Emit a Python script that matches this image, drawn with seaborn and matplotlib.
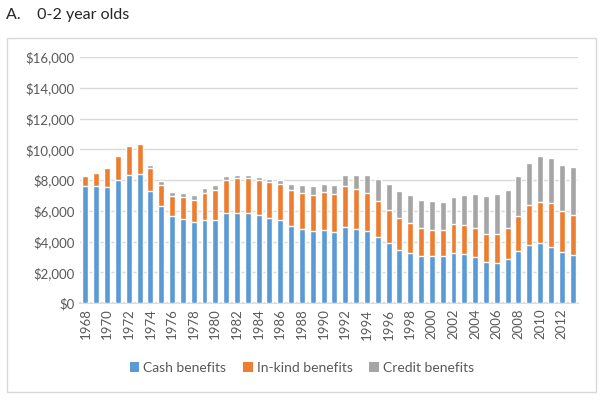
import matplotlib
matplotlib.use("Agg")
import matplotlib.pyplot as plt
from matplotlib.patches import Rectangle, Patch
from matplotlib.ticker import FuncFormatter
import seaborn as sns
import pandas as pd

years = list(range(1968, 2014))
cash = [7.58, 7.58, 7.56, 7.99, 8.31, 8.40, 7.26, 6.31, 5.69, 5.46,
        5.24, 5.39, 5.43, 5.84, 5.88, 5.88, 5.71, 5.54, 5.37, 5.00,
        4.83, 4.68, 4.77, 4.60, 4.94, 4.83, 4.68, 4.27, 3.91, 3.46,
        3.26, 3.03, 3.03, 3.03, 3.26, 3.16, 2.96, 2.64, 2.62, 2.84,
        3.37, 3.80, 3.93, 3.67, 3.33, 3.14]
inkind = [0.69, 0.90, 1.25, 1.55, 1.89, 1.95, 1.55, 1.38, 1.25, 1.41,
          1.48, 1.76, 1.94, 2.15, 2.22, 2.28, 2.26, 2.30, 2.34, 2.32,
          2.32, 2.34, 2.42, 2.47, 2.64, 2.56, 2.49, 2.35, 2.17, 2.06,
          1.94, 1.82, 1.74, 1.74, 1.85, 1.91, 1.94, 1.87, 1.89, 2.01,
          2.28, 2.56, 2.66, 2.82, 2.64, 2.57]
credit = [0.0, 0.0, 0.0, 0.0, 0.0, 0.0, 0.17, 0.26, 0.30, 0.28,
          0.28, 0.30, 0.32, 0.28, 0.23, 0.19, 0.23, 0.24, 0.30, 0.43,
          0.52, 0.60, 0.56, 0.58, 0.75, 0.94, 1.16, 1.46, 1.65, 1.74,
          1.84, 1.87, 1.85, 1.82, 1.76, 1.93, 2.17, 2.47, 2.58, 2.52,
          2.62, 2.73, 2.95, 2.94, 3.01, 3.12]
series_names = ["Cash benefits", "In-kind benefits", "Credit benefits"]
colors = ["#5B9BD5", "#ED7D31", "#A5A5A5"]

df = pd.DataFrame({
    "year": [str(y) for y in years],
    "cash": [c * 1000 for c in cash],
    "inkind": [i * 1000 for i in inkind],
    "credit": [c * 1000 for c in credit],
})
df["cum2"] = df["cash"] + df["inkind"]
df["cum3"] = df["cum2"] + df["credit"]

sns.set_theme(style="white")
plt.rcParams["font.family"] = ["Lato", "DejaVu Sans"]

fig = plt.figure(figsize=(6.04, 4.0), dpi=100)
ax = fig.add_axes([80 / 604, 1 - 303 / 400, 498 / 604, 246 / 400])

order = df["year"].tolist()
for col, colr in zip(["cum3", "cum2", "cash"], [colors[2], colors[1], colors[0]]):
    sns.barplot(data=df, x="year", y=col, order=order, color=colr,
                width=0.55, saturation=1, ax=ax, zorder=3)

ax.set_ylim(0, 16000)
ax.set_xlim(-0.5, len(years) - 0.5)
ax.set_yticks(range(0, 16001, 2000))
ax.yaxis.set_major_formatter(FuncFormatter(lambda v, p: f"${int(v):,}"))
ax.grid(axis="y", color="#D9D9D9", linewidth=1, zorder=0)
ax.set_axisbelow(True)
ax.set_xticks(range(0, len(years), 2))
ax.set_xticklabels([str(y) for y in years[::2]], rotation=90)
ax.tick_params(axis="both", length=0, labelsize=9.5, labelcolor="#595959", pad=4)
ax.set_xlabel("")
ax.set_ylabel("")
for s in ["top", "right", "left"]:
    ax.spines[s].set_visible(False)
ax.spines["bottom"].set_color("#D9D9D9")

handles = [Patch(facecolor=c, edgecolor="none") for c in colors]
fig.legend(handles, series_names, loc="center", bbox_to_anchor=(0.5, 1 - 368 / 400),
           ncol=3, frameon=False, fontsize=10, handlelength=0.7, handleheight=0.7,
           handletextpad=0.3, columnspacing=1.2, labelcolor="#595959")

fig.patches.append(Rectangle((7 / 604, 1 - 392 / 400), 589 / 604, 354 / 400,
                             transform=fig.transFigure, fill=False,
                             edgecolor="#D9D9D9", linewidth=1))

fig.text(6 / 604, 1 - 15 / 400, "A.    0-2 year olds", fontsize=11.5,
         color="#262626", va="center", ha="left")

fig.savefig("out.png", dpi=100)
